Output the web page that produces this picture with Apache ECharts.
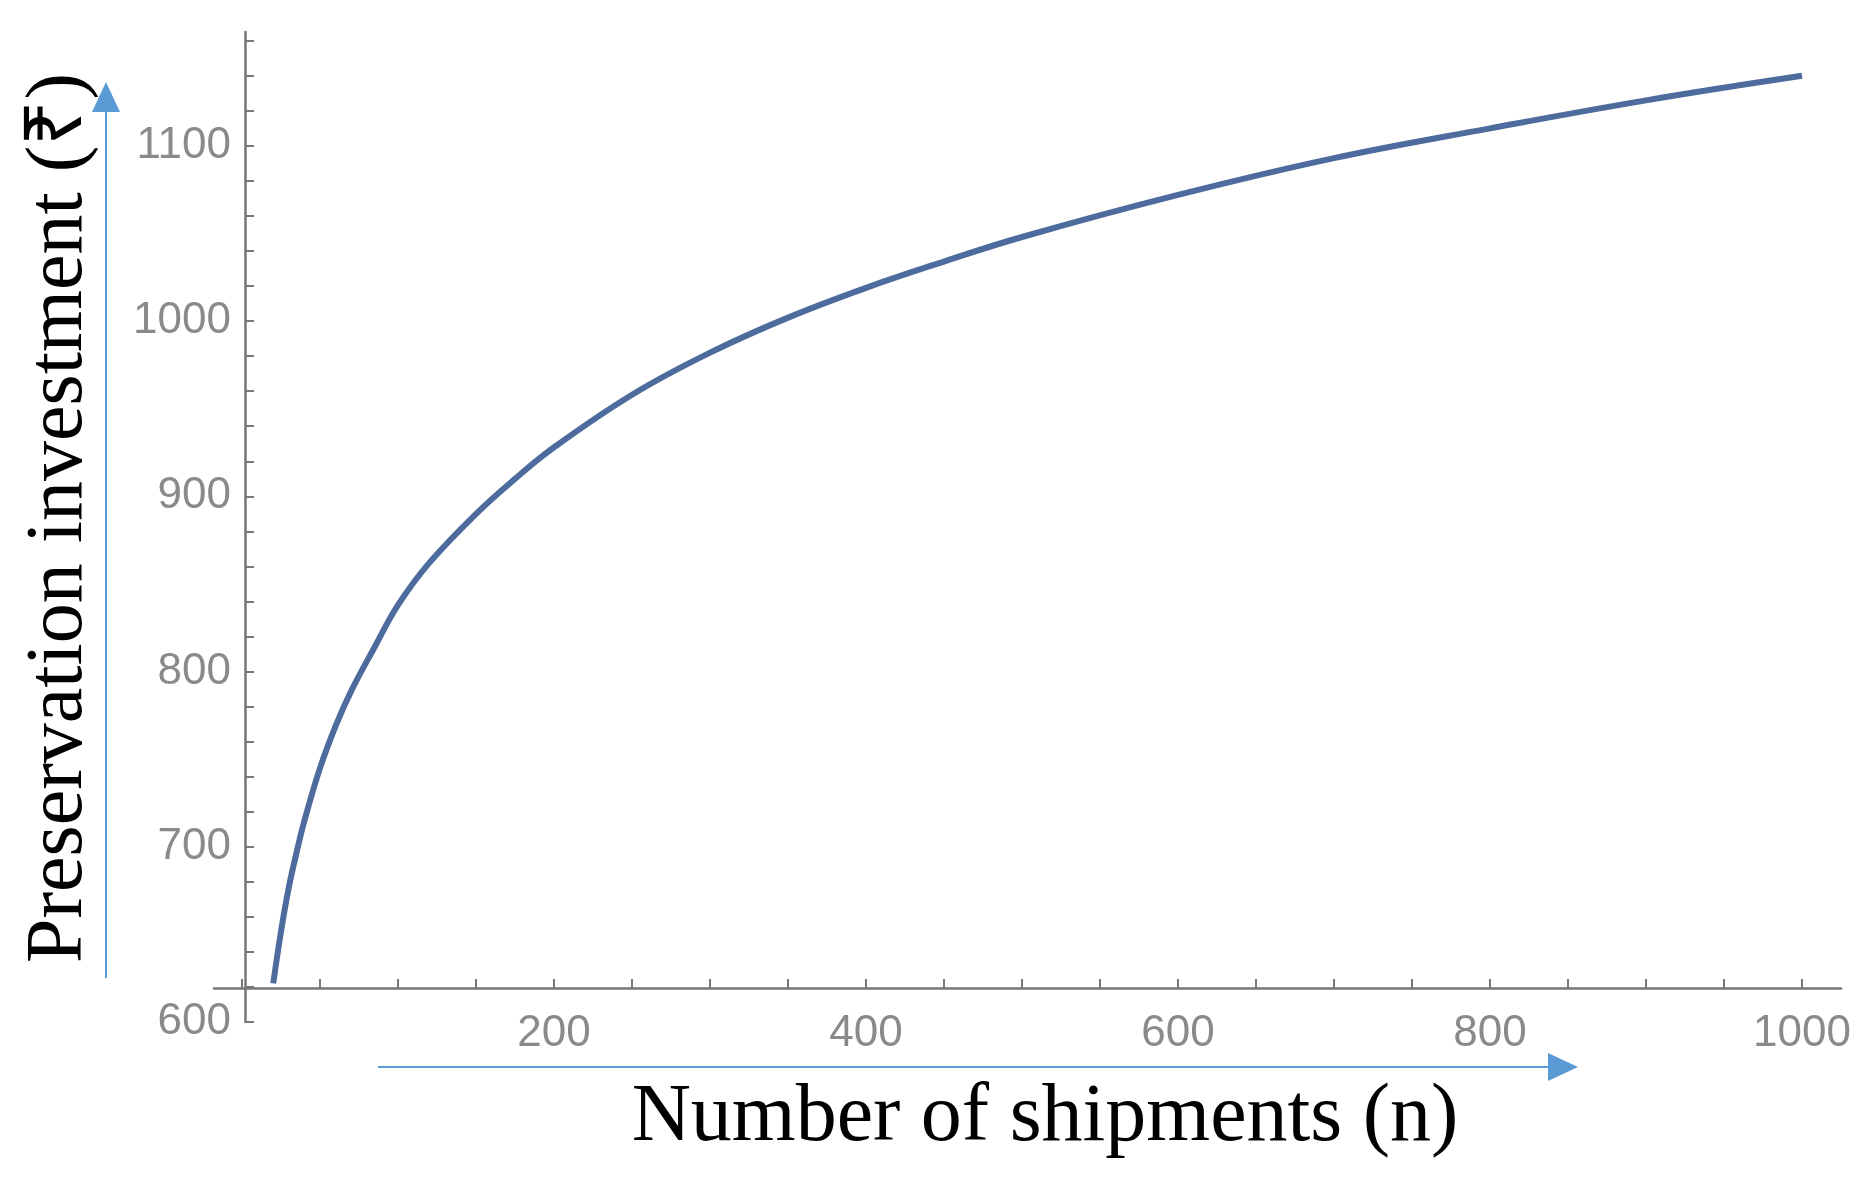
<!DOCTYPE html>
<html><head><meta charset="utf-8">
<script src="https://cdn.jsdelivr.net/npm/echarts@6/dist/echarts.min.js"></script>
<style>html,body{margin:0;padding:0;background:#fff}#c{width:1875px;height:1177px}</style>
</head><body><div id="c"></div>
<script>
const shipments = [20, 25, 30, 35, 40, 50, 60, 70, 85, 100, 120, 150, 175, 200, 250, 300, 350, 400, 450, 500, 600, 700, 800, 900, 1000];
const investment = [622, 652, 677, 697, 715, 745, 769, 789, 814, 838, 862, 890, 910, 928, 958, 982, 1002, 1019, 1034, 1048, 1072, 1093, 1110, 1126, 1140];
const xLabels = [200, 400, 600, 800, 1000];
const xTicks = [0,50,100,150,200,250,300,350,400,450,500,550,600,650,700,750,800,850,900,950,1000];
const yLabels = [600, 700, 800, 900, 1000, 1100];
const yTicks = [600,620,640,660,680,700,720,740,760,780,800,820,840,860,880,900,920,940,960,980,1000,1020,1040,1060,1080,1100,1120,1140,1160];
const xTitle = 'Number of shipments (n)';
const yTitle = 'Preservation investment (₹)';

const chart = echarts.init(document.getElementById('c'));
const axisCol = '#777';
chart.setOption({
  animation: false,
  grid: {left: 214, right: 34, top: 32, bottom: 155},
  xAxis: {
    type: 'value', min: -18, max: 1025, offset: -34,
    axisLine: {show: true, lineStyle: {color: axisCol, width: 2.5}},
    axisTick: {show: true, inside: true, length: 9, customValues: xTicks, lineStyle: {color: axisCol, width: 2}},
    axisLabel: {customValues: xLabels, margin: 24, fontSize: 44, color: '#8a8a8a', fontFamily: 'Liberation Sans', formatter: v => String(v)},
    splitLine: {show: false}
  },
  yAxis: {
    type: 'value', min: 600, max: 1165, offset: -31,
    axisLine: {show: true, lineStyle: {color: axisCol, width: 2.5}},
    axisTick: {show: true, inside: true, length: 9, customValues: yTicks, lineStyle: {color: axisCol, width: 2}},
    axisLabel: {customValues: yLabels, margin: 14, fontSize: 44, color: '#8a8a8a', fontFamily: 'Liberation Sans', formatter: v => String(v)},
    splitLine: {show: false}
  },
  series: [{
    type: 'line', smooth: 0.4, symbol: 'none',
    data: shipments.map((n, i) => [n, investment[i]]),
    lineStyle: {color: '#4d6b9c', width: 6}
  }],
  graphic: [
    {type: 'line', shape: {x1: 378, y1: 1067, x2: 1550, y2: 1067}, style: {stroke: '#5b9bd5', lineWidth: 2}},
    {type: 'polygon', shape: {points: [[1548, 1053], [1578, 1067], [1548, 1081]]}, style: {fill: '#5b9bd5'}},
    {type: 'line', shape: {x1: 106, y1: 978, x2: 106, y2: 110}, style: {stroke: '#5b9bd5', lineWidth: 2}},
    {type: 'polygon', shape: {points: [[92, 112], [106, 82], [120, 112]]}, style: {fill: '#5b9bd5'}},
    {type: 'text', x: 1045, y: 1118, style: {text: xTitle, font: '82px "Liberation Serif"', fill: '#000', align: 'center', verticalAlign: 'middle'}},
    {type: 'text', x: 60, y: 518, rotation: Math.PI / 2, style: {text: yTitle, font: '80px "Liberation Serif"', fill: '#000', align: 'center', verticalAlign: 'middle'}}
  ]
});
</script></body></html>
